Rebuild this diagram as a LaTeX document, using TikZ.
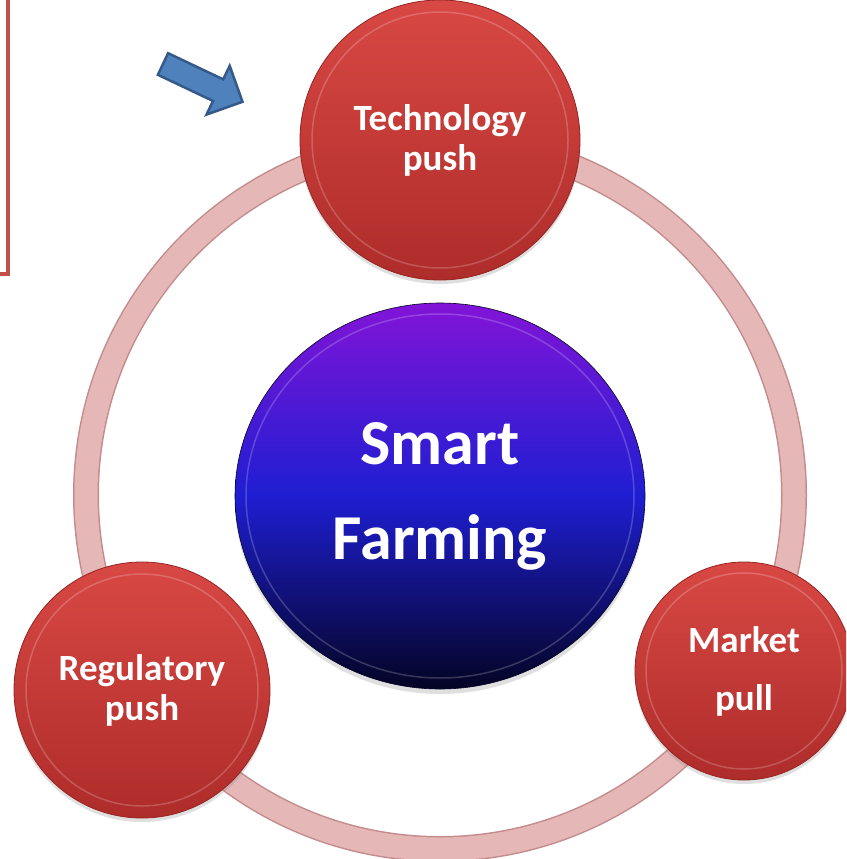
\documentclass[tikz,border=0pt]{standalone}
\usepackage{fontspec}
\setmainfont{Carlito}
\usetikzlibrary{shadows,shapes.geometric}

\definecolor{ringpink}{RGB}{229,184,183}
\definecolor{ringedge}{RGB}{196,140,140}
\definecolor{redtop}{RGB}{216,72,68}
\definecolor{redbot}{RGB}{174,44,42}
\definecolor{redrim}{RGB}{150,36,34}
\definecolor{coretop}{RGB}{130,20,215}
\definecolor{coremid}{RGB}{30,30,210}
\definecolor{corebot}{RGB}{4,4,36}
\definecolor{boxred}{RGB}{192,80,77}
\definecolor{arrowfill}{RGB}{79,129,189}
\definecolor{arrowline}{RGB}{52,90,138}

\tikzset{
  driver/.style={circle, inner sep=0pt, top color=redtop, bottom color=redbot,
    draw=redrim, line width=0.8pt, text=white,
    drop shadow={opacity=0.25, shadow xshift=0pt, shadow yshift=-4pt}},
  drivertext/.style={font=\bfseries\fontsize{37}{40}\selectfont, align=center},
  bevel/.style={white, opacity=0.2, line width=1.5pt},
}

\begin{document}
\begin{tikzpicture}[x=1pt,y=1pt,yscale=-1,xscale=1]
\useasboundingbox (0,0) rectangle (846,859);
\clip (0,0) rectangle (846,859);

% frame at the left edge
\draw [boxred, line width=4pt] (-20,-20) rectangle (8,274);

% block arrow
\draw [arrowline, fill=arrowfill, line width=2.5pt, line join=miter] (157.9,74.8) -- (213.0,101.0) -- (206.5,114.6) -- (242.5,101.8) -- (229.7,65.8) -- (223.2,79.4) -- (168.1,53.2) -- cycle ;

% ring
\draw [ringedge, line width=26pt] (440,495) circle (354) ;
\draw [ringpink, line width=23pt] (440,495) circle (354) ;

% centre
\node (core) [ellipse, minimum width=410, minimum height=386, inner sep=0pt,
  top color=coretop, bottom color=corebot, middle color=coremid,
  draw=corebot, line width=0.6pt,
  drop shadow={opacity=0.25, shadow xshift=0pt, shadow yshift=-5pt}] at (440,496) {};
\draw [bevel] (core.center) ellipse (194 and 182) ;
\node [text=white, font=\bfseries\fontsize{64}{95}\selectfont, align=center] at (core.center) {Smart\\Farming};

% drivers
\node (tech) [driver, minimum size=280] at (440,140) {};
\node (reg) [driver, minimum size=256] at (142,690) {};
\node (mkt) [driver, minimum size=218] at (744,671) {};
\draw [bevel] (tech.center) circle (128) ;
\draw [bevel] (reg.center) circle (116) ;
\draw [bevel] (mkt.center) circle (98) ;

\node [drivertext, text=white] at (tech.center) {Technology\\push};
\node [drivertext, text=white] at (reg.center) {Regulatory\\push};
\node [drivertext, text=white, font=\bfseries\fontsize{37}{58}\selectfont] at (mkt.center) {Market\\pull};
\end{tikzpicture}
\end{document}
